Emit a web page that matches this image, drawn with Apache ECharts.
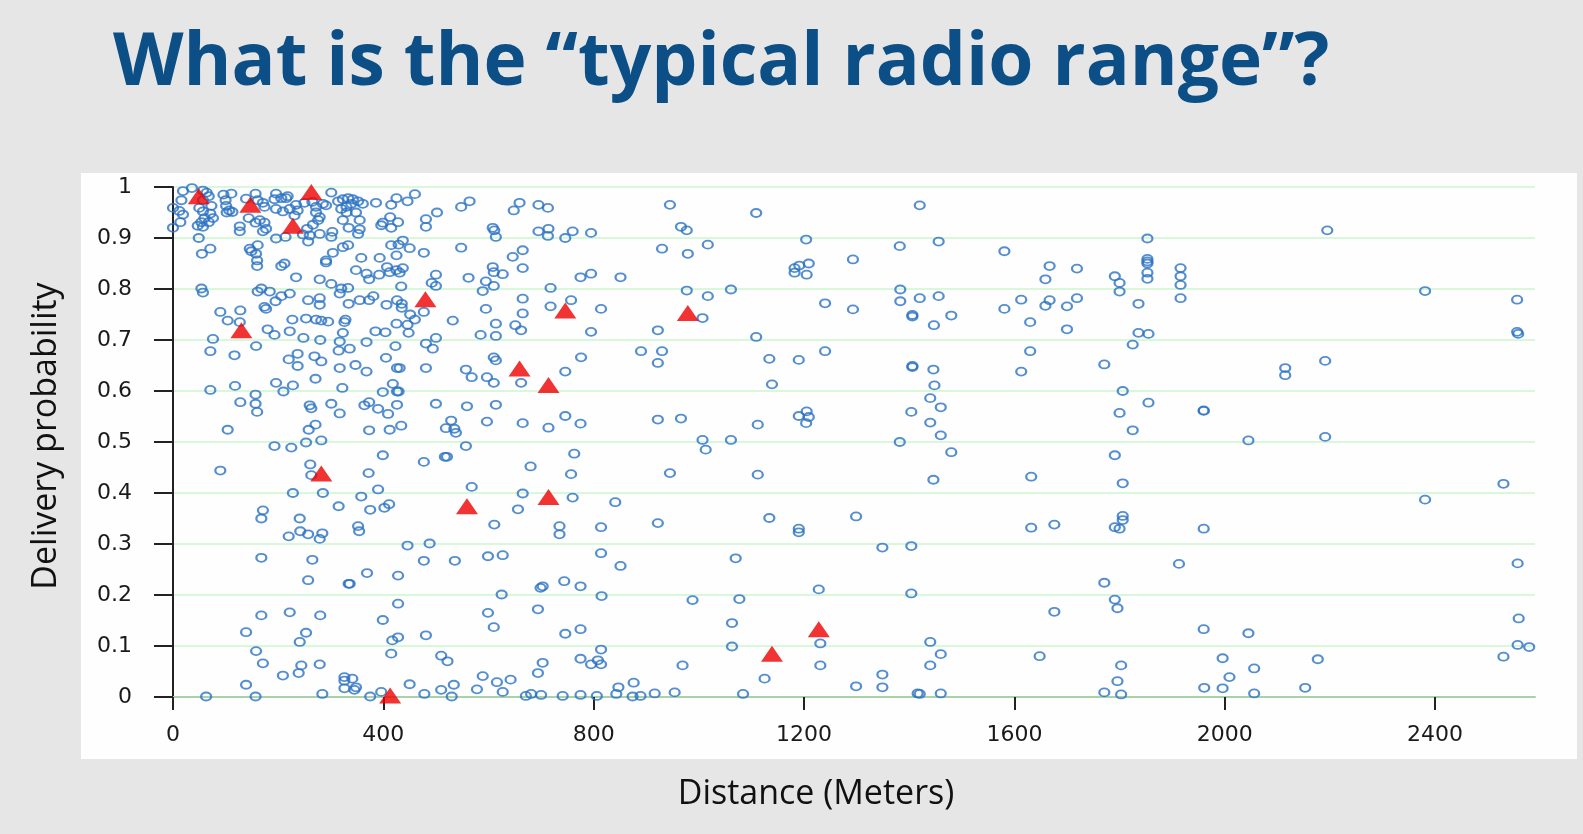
<!DOCTYPE html>
<html>
<head>
<meta charset="utf-8">
<title>What is the typical radio range?</title>
<script src="https://cdn.jsdelivr.net/npm/echarts@6/dist/echarts.min.js"></script>
<style>
  html, body { margin: 0; padding: 0; background: #e6e6e6; }
  #main { width: 1583px; height: 834px; }
</style>
</head>
<body>
<div id="main"></div>
<script>
// tick labels / axis ranges
var xTicks = [0, 400, 800, 1200, 1600, 2000, 2400];
var xMax = 2590;
var yTicks = [0, 0.1, 0.2, 0.3, 0.4, 0.5, 0.6, 0.7, 0.8, 0.9, 1];

// blue circles: [distance (m), delivery probability]
var linksNear = [
  [0,0.959],[12,0.953],[19,0.946],[14,0.931],[0,0.920],[19,0.992],[36,0.998],[16,0.974],[57,0.993],[64,0.989],
  [68,0.982],[57,0.974],[50,0.959],[57,0.952],[73,0.963],[71,0.948],[60,0.939],[54,0.931],[47,0.924],[57,0.922],
  [68,0.931],[76,0.939],[49,0.900],[55,0.869],[71,0.879],
  [96,0.985],[111,0.987],[100,0.974],[101,0.963],[107,0.954],[113,0.951],[102,0.950],
  [139,0.977],[157,0.987],[161,0.974],[171,0.969],[174,0.961],[144,0.939],[157,0.930],[165,0.935],[174,0.930],
  [177,0.918],[171,0.913],[127,0.923],[127,0.913],
  [196,0.987],[206,0.978],[193,0.976],[218,0.982],[215,0.978],[196,0.957],[209,0.952],[222,0.957],[234,0.965],
  [237,0.954],[231,0.944],[214,0.902],[196,0.899],
  [250,0.969],[265,0.971],[272,0.961],[285,0.967],[291,0.964],[272,0.950],[279,0.941],[276,0.935],[266,0.926],
  [255,0.918],[260,0.905],[257,0.893],[279,0.908],[247,0.907],
  [301,0.989],[314,0.972],[323,0.976],[333,0.978],[342,0.976],[352,0.972],[339,0.967],[330,0.961],[320,0.957],
  [330,0.950],[348,0.950],[355,0.935],[361,0.967],[323,0.935],[334,0.920],[355,0.917],[352,0.908],[303,0.912],[301,0.902],
  [386,0.969],[415,0.965],[425,0.978],[413,0.941],[399,0.930],[396,0.925],[415,0.920],[428,0.931],
  [146,0.879],[149,0.874],[161,0.886],[158,0.869],[160,0.856],[160,0.845],[206,0.845],[212,0.850],[234,0.823],
  [279,0.819],[291,0.852],[291,0.856],[304,0.871],[323,0.882],[333,0.886],[358,0.861],[348,0.837],[368,0.830],
  [373,0.819],[392,0.828],[393,0.861],[407,0.843],[415,0.886],[425,0.866],[412,0.833],[425,0.837],
  [54,0.801],[57,0.793],[161,0.795],[168,0.801],[184,0.795],[195,0.776],[206,0.786],[222,0.791],[174,0.765],
  [177,0.761],[257,0.778],[279,0.782],[279,0.769],[301,0.810],[320,0.801],[333,0.802],[317,0.791],[334,0.771],
  [355,0.778],[373,0.778],[381,0.786],[406,0.769],[426,0.778],
  [90,0.755],[104,0.738],[128,0.758],[127,0.735],[180,0.721],[193,0.710],[222,0.717],[227,0.740],[253,0.742],
  [272,0.740],[282,0.738],[295,0.736],[328,0.740],[326,0.735],[323,0.714],[385,0.717],[404,0.715],[425,0.732],
  [76,0.702],[71,0.678],[117,0.670],[158,0.688],[248,0.704],[280,0.700],[317,0.697],[315,0.679],[336,0.683],
  [368,0.696],[423,0.688],[220,0.662],[237,0.673],[237,0.649],[269,0.668],[282,0.658],[317,0.645],[347,0.651],
  [368,0.638],[405,0.665],[426,0.645],
  [71,0.602],[118,0.610],[196,0.616],[210,0.599],[228,0.611],[271,0.624],[322,0.606],[399,0.598],[418,0.614],[426,0.599],
  [128,0.578],[157,0.593],[157,0.575],[160,0.559],[260,0.572],[263,0.566],[301,0.575],[317,0.556],[364,0.572],
  [373,0.578],[390,0.565],[409,0.555],[426,0.573],
  [104,0.524],[258,0.524],[271,0.534],[373,0.523],[412,0.524],
  [193,0.492],[225,0.489],[253,0.499],[282,0.503],[399,0.474],[90,0.444],[261,0.456],[263,0.435],[372,0.439],
  [228,0.400],[285,0.400],[358,0.393],[390,0.407],[315,0.374],[375,0.367],[402,0.371],[411,0.378],[171,0.366],
  [168,0.350],[241,0.350],[242,0.325],[257,0.319],[284,0.321],[279,0.310],[220,0.315],[352,0.335],[354,0.325],
  [168,0.273],[265,0.269],[257,0.229],[334,0.222],[336,0.222],[369,0.243],[428,0.238],[428,0.183],[168,0.160],
  [222,0.166],[280,0.160],[399,0.151],[139,0.127],[253,0.126],[241,0.108],[417,0.111],[428,0.117],[158,0.090],
  [171,0.066],[244,0.062],[279,0.064],[239,0.047],[209,0.042],[415,0.085],[139,0.024],[326,0.039],[341,0.036],
  [326,0.032],[326,0.017],[348,0.019],[345,0.014],[63,0.001],[157,0.001],[284,0.006],[375,0.001],[396,0.010]
];

var linksMid = [
  [446,0.972],[460,0.986],[481,0.937],[481,0.922],[502,0.950],[548,0.961],[564,0.972],[608,0.920],[611,0.915],
  [614,0.902],[648,0.954],[659,0.969],[695,0.965],[713,0.959],[695,0.913],[714,0.918],[713,0.904],[746,0.900],
  [760,0.913],[795,0.910],
  [437,0.895],[429,0.887],[450,0.880],[477,0.871],[548,0.881],[646,0.863],[665,0.876],
  [437,0.841],[431,0.832],[500,0.828],[492,0.812],[500,0.806],[434,0.805],[562,0.822],[595,0.815],[589,0.796],
  [610,0.806],[608,0.843],[610,0.833],[627,0.829],[665,0.841],[718,0.802],[775,0.823],[795,0.830],[851,0.823],
  [435,0.771],[435,0.763],[477,0.755],[451,0.750],[460,0.740],[446,0.730],[448,0.714],[532,0.738],[595,0.761],
  [665,0.781],[665,0.752],[718,0.766],[757,0.778],[814,0.761],[614,0.732],[651,0.729],[662,0.719],[585,0.710],
  [614,0.708],[795,0.716],
  [481,0.693],[494,0.683],[500,0.704],[610,0.666],[614,0.660],[776,0.666],[890,0.678],
  [431,0.645],[481,0.645],[557,0.642],[568,0.627],[597,0.627],[610,0.616],[662,0.616],[746,0.638],[429,0.599],
  [500,0.575],[559,0.570],[614,0.573],[746,0.551],[775,0.536],[597,0.540],[665,0.537],[714,0.528],[434,0.532],
  [529,0.542],[519,0.527],[535,0.526],[538,0.518],
  [557,0.492],[477,0.461],[517,0.471],[521,0.471],[680,0.452],[763,0.477],[757,0.437],[568,0.412],[665,0.399],
  [656,0.368],[760,0.391],[841,0.382],[611,0.338],[735,0.335],[735,0.319],[814,0.333],[446,0.297],[488,0.301],
  [477,0.267],[536,0.267],[599,0.276],[627,0.278],[814,0.282],[851,0.257],[699,0.214],[703,0.217],[744,0.227],
  [775,0.217],[625,0.201],[815,0.198],[599,0.165],[694,0.172],[610,0.137],[746,0.124],[775,0.133],[481,0.121],
  [510,0.081],[522,0.070],[814,0.093],[775,0.075],[795,0.064],[808,0.072],[814,0.064],[703,0.067],[694,0.047],
  [589,0.041],[616,0.029],[642,0.034],[534,0.024],[510,0.014],[450,0.025],[478,0.006],[530,0.001],[578,0.015],
  [627,0.010],[671,0.002],[681,0.006],[700,0.004],[741,0.002],[775,0.004],[806,0.002],[843,0.006],[847,0.019],
  [876,0.028],[874,0.001],[889,0.002]
];

var linksFar = [
  [945,0.965],[1109,0.949],[966,0.922],[977,0.915],[1420,0.964],[930,0.879],[979,0.869],[1017,0.887],[1204,0.897],
  [1382,0.884],[1456,0.893],[1581,0.874],[1293,0.858],[1182,0.841],[1191,0.846],[1209,0.850],[1182,0.832],
  [1205,0.828],[1667,0.845],[1719,0.840],[1659,0.819],
  [977,0.797],[1017,0.786],[1061,0.799],[1007,0.743],[922,0.719],[1109,0.706],[1240,0.772],[1293,0.760],
  [1383,0.799],[1383,0.776],[1420,0.782],[1456,0.786],[1406,0.749],[1406,0.746],[1480,0.748],[1447,0.729],
  [1581,0.761],[1613,0.779],[1667,0.778],[1659,0.767],[1700,0.766],[1719,0.782],[1630,0.735],[1700,0.721],
  [930,0.678],[922,0.655],[1134,0.663],[1190,0.661],[1240,0.678],[1406,0.649],[1406,0.647],[1446,0.642],
  [1448,0.611],[1139,0.613],[1630,0.678],[1613,0.638],[1440,0.586],[1460,0.568],[1404,0.559],[1440,0.538],
  [1460,0.513],[1480,0.480],[1382,0.500],[922,0.544],[966,0.546],[1112,0.534],[1190,0.551],[1205,0.560],
  [1209,0.549],[1204,0.537],[1007,0.504],[1013,0.485],[1061,0.504],
  [945,0.439],[1112,0.436],[1446,0.426],[1632,0.432],[922,0.341],[1134,0.351],[1190,0.330],[1190,0.323],
  [1299,0.354],[1632,0.332],[1676,0.338],[1349,0.293],[1404,0.296],[1070,0.272],[1228,0.211],[1404,0.203],
  [988,0.190],[1077,0.192],[1063,0.145],[1676,0.167],[1063,0.099],[1231,0.105],[1440,0.108],[1460,0.084],
  [1648,0.080],[969,0.062],[1231,0.062],[1440,0.062],[1125,0.036],[1349,0.044],[1299,0.021],[1349,0.019],
  [916,0.007],[954,0.009],[1084,0.006],[1416,0.007],[1420,0.006],[1460,0.007],
  [2195,0.915],[1853,0.899],[1853,0.859],[1853,0.854],[1853,0.850],[1853,0.832],[1853,0.820],[1791,0.825],
  [1800,0.812],[1800,0.795],[1916,0.841],[1916,0.825],[1916,0.808],[1916,0.782],[1836,0.771],[2381,0.796],
  [2556,0.779],[1836,0.714],[1855,0.712],[2556,0.716],[2558,0.712],[1825,0.691],[1771,0.652],[2115,0.645],
  [2115,0.631],[2191,0.659],[1806,0.600],[1855,0.577],[1800,0.557],[1960,0.562],[1960,0.561],[1825,0.523],
  [2045,0.503],[2191,0.510],[1791,0.474],[1806,0.419],[2530,0.418],[2381,0.387],[1806,0.355],[1806,0.347],
  [1791,0.333],[1800,0.330],[1960,0.330],[1913,0.261],[2557,0.262],[1771,0.224],[1791,0.191],[1796,0.174],
  [1960,0.133],[2045,0.125],[2559,0.154],[2557,0.102],[2579,0.098],[2530,0.079],[1996,0.076],[2177,0.074],
  [1803,0.062],[2056,0.056],[2009,0.039],[1796,0.031],[1771,0.009],[1803,0.005],[1961,0.018],[1996,0.017],
  [2056,0.007],[2153,0.018]
];

// red triangles
var highlighted = [
  [49,0.982],[147,0.965],[263,0.990],[228,0.924],[130,0.719],[282,0.438],[413,0.003],[480,0.780],
  [746,0.758],[659,0.644],[714,0.612],[559,0.374],[714,0.392],[979,0.753],[1228,0.133],[1139,0.085]
];

var myChart = echarts.init(document.getElementById('main'), null, {renderer: 'canvas'});

var option = {
    backgroundColor: '#e6e6e6',
    animation: false,
    title: {
        text: 'What is the \u201ctypical radio range\u201d?',
        left: 108,
        top: 23,
        textStyle: {
            fontFamily: 'Open Sans',
            fontWeight: 'bold',
            fontSize: 73,
            color: '#0c4f87'
        }
    },
    graphic: [{
        type: 'rect',
        z: -10,
        shape: {x: 81, y: 173, width: 1496, height: 586},
        style: {fill: '#fefefe'}
    }],
    grid: {
        left: 173,
        right: 48,
        top: 187,
        bottom: 137
    },
    xAxis: {
        type: 'value',
        min: 0,
        max: xMax,
        interval: 400,
        name: 'Distance (Meters)',
        nameLocation: 'middle',
        nameGap: 80,
        nameTextStyle: {
            fontFamily: 'Open Sans',
            fontSize: 34,
            color: '#111',
            padding: [0, 76, 0, 0]
        },
        axisLine: {
            show: true,
            onZero: false,
            lineStyle: {color: '#a9d2a9', width: 2}
        },
        axisTick: {
            show: true,
            length: 13,
            customValues: xTicks,
            lineStyle: {color: '#222', width: 2}
        },
        axisLabel: {
            margin: 27,
            fontFamily: 'DejaVu Sans',
            fontSize: 22,
            color: '#1a1a1a',
            customValues: xTicks,
            formatter: function (v) { return String(v); }
        },
        splitLine: {show: false}
    },
    yAxis: {
        type: 'value',
        min: 0,
        max: 1,
        interval: 0.1,
        name: 'Delivery probability',
        nameLocation: 'middle',
        nameRotate: 90,
        nameGap: 110,
        nameTextStyle: {
            fontFamily: 'Open Sans',
            fontSize: 34,
            color: '#111',
            padding: [0, 0, 0, 12]
        },
        axisLine: {
            show: true,
            lineStyle: {color: '#222', width: 2}
        },
        axisTick: {
            show: true,
            length: 19,
            lineStyle: {color: '#222', width: 2}
        },
        axisLabel: {
            margin: 41,
            fontFamily: 'DejaVu Sans',
            fontSize: 22,
            color: '#1a1a1a',
            customValues: yTicks
        },
        splitLine: {
            show: true,
            lineStyle: {color: '#d9f7d9', width: 2}
        }
    },
    series: [{
        name: 'links',
        type: 'scatter',
        symbol: 'circle',
        symbolSize: [10, 8],
        itemStyle: {
            color: 'rgba(0,0,0,0)',
            borderColor: '#2b72c2',
            borderWidth: 2
        },
        data: linksNear.concat(linksMid, linksFar)
    }, {
        name: 'highlighted',
        type: 'scatter',
        symbol: 'triangle',
        symbolSize: [22, 16],
        z: 3,
        itemStyle: {color: '#ee0000'},
        data: highlighted
    }]
};

myChart.setOption(option);
</script>
</body>
</html>
